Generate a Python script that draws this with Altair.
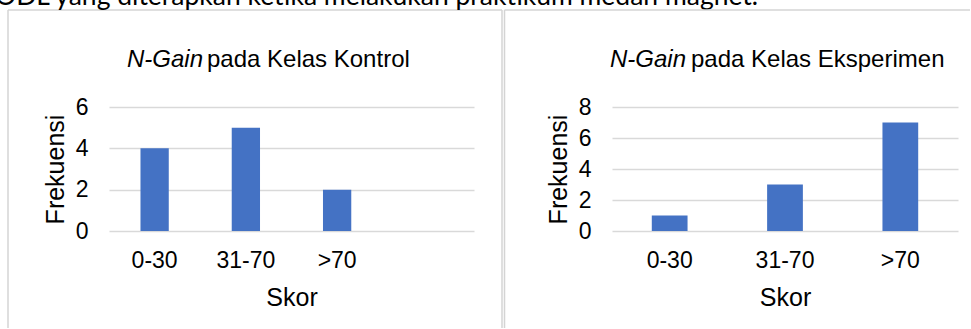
import altair as alt
import pandas as pd

# N-Gain score frequencies for the two classes
categories = ["0-30", "31-70", ">70"]
kontrol = [4, 5, 2]
eksperimen = [1, 3, 7]
kontrol_ticks = [0, 2, 4, 6]
eksperimen_ticks = [0, 2, 4, 6, 8]
header_text = "ODL yang diterapkan ketika melakukan praktikum medan magnet."

FONT = "Liberation Sans"
BAR = "#4472C4"
GRID = "#d9d9d9"
FRAME = "#d4d4d4"
INK = "#000000"

one = pd.DataFrame({"k": [0]})


def rule(x, x2, y, y2):
    return alt.Chart(one).mark_rule(color=FRAME, strokeWidth=1.5).encode(
        x=alt.value(x), x2=alt.value(x2), y=alt.value(y), y2=alt.value(y2)
    )


def label(text, x, italic=False, align="left"):
    return alt.Chart(one).mark_text(
        text=text, font=FONT, fontSize=24, color=INK, align=align,
        baseline="alphabetic", fontStyle="italic" if italic else "normal",
    ).encode(x=alt.value(x), y=alt.value(-40))


def panel(values, domain, ticks, title_rest, split):
    df = pd.DataFrame({"Skor": categories, "Frekuensi": values})
    x = alt.X(
        "Skor:N", sort=domain,
        scale=alt.Scale(domain=domain, paddingInner=0.69, paddingOuter=0.345),
        axis=alt.Axis(
            title="Skor", labelAngle=0, ticks=False, domain=False, grid=False,
            labelPadding=18, titlePadding=13, labelFont=FONT, titleFont=FONT,
            labelFontSize=23, titleFontSize=25, labelColor=INK, titleColor=INK,
            titleFontWeight="normal",
        ),
    )
    y = alt.Y(
        "Frekuensi:Q",
        scale=alt.Scale(domain=[0, ticks[-1]], nice=False),
        axis=alt.Axis(
            title="Frekuensi", values=ticks, ticks=False, domain=False,
            grid=True, gridColor=GRID, gridWidth=1.5,
            labelPadding=21, titlePadding=7, labelFont=FONT, titleFont=FONT,
            labelFontSize=23, titleFontSize=25, labelColor=INK, titleColor=INK,
            titleFontWeight="normal",
        ),
    )
    bars = alt.Chart(df).mark_bar(color=BAR).encode(x=x, y=y)
    title_a = label("N-Gain", split[0], italic=True, align="right")
    title_b = label(title_rest, split[1])
    return bars, title_a, title_b


bars_k, ta_k, tb_k = panel(kontrol, categories + [" "], kontrol_ticks,
                           "pada Kelas Kontrol", (94, 98))
bars_e, ta_e, tb_e = panel(eksperimen, categories, eksperimen_ticks,
                           "pada Kelas Eksperimen", (74, 79))

# running caption line above the two charts, trimmed by the top edge
header = alt.Chart(one).mark_text(
    text=header_text, font="Lato", fontSize=26.5, color=INK,
    align="left", baseline="alphabetic",
).encode(x=alt.value(-114), y=alt.value(-102))

left = alt.layer(
    rule(-101, -101, -97, 221), rule(-101, 393, -97, -97), rule(393, 393, -97, 221),
    bars_k, ta_k, tb_k, header,
).properties(width=365, height=124)

right = alt.layer(
    rule(-107.5, -107.5, -97, 221), rule(-107.5, 358, -97, -97),
    bars_e, ta_e, tb_e,
).properties(width=346, height=124)

chart = alt.hconcat(left, right, spacing=138, bounds="flush").properties(
    padding={"left": -5, "top": -16, "right": 0, "bottom": 0},
    background="white",
).configure_view(stroke=None)

chart.save("out.html", embed_options={"renderer": "svg", "actions": False})
